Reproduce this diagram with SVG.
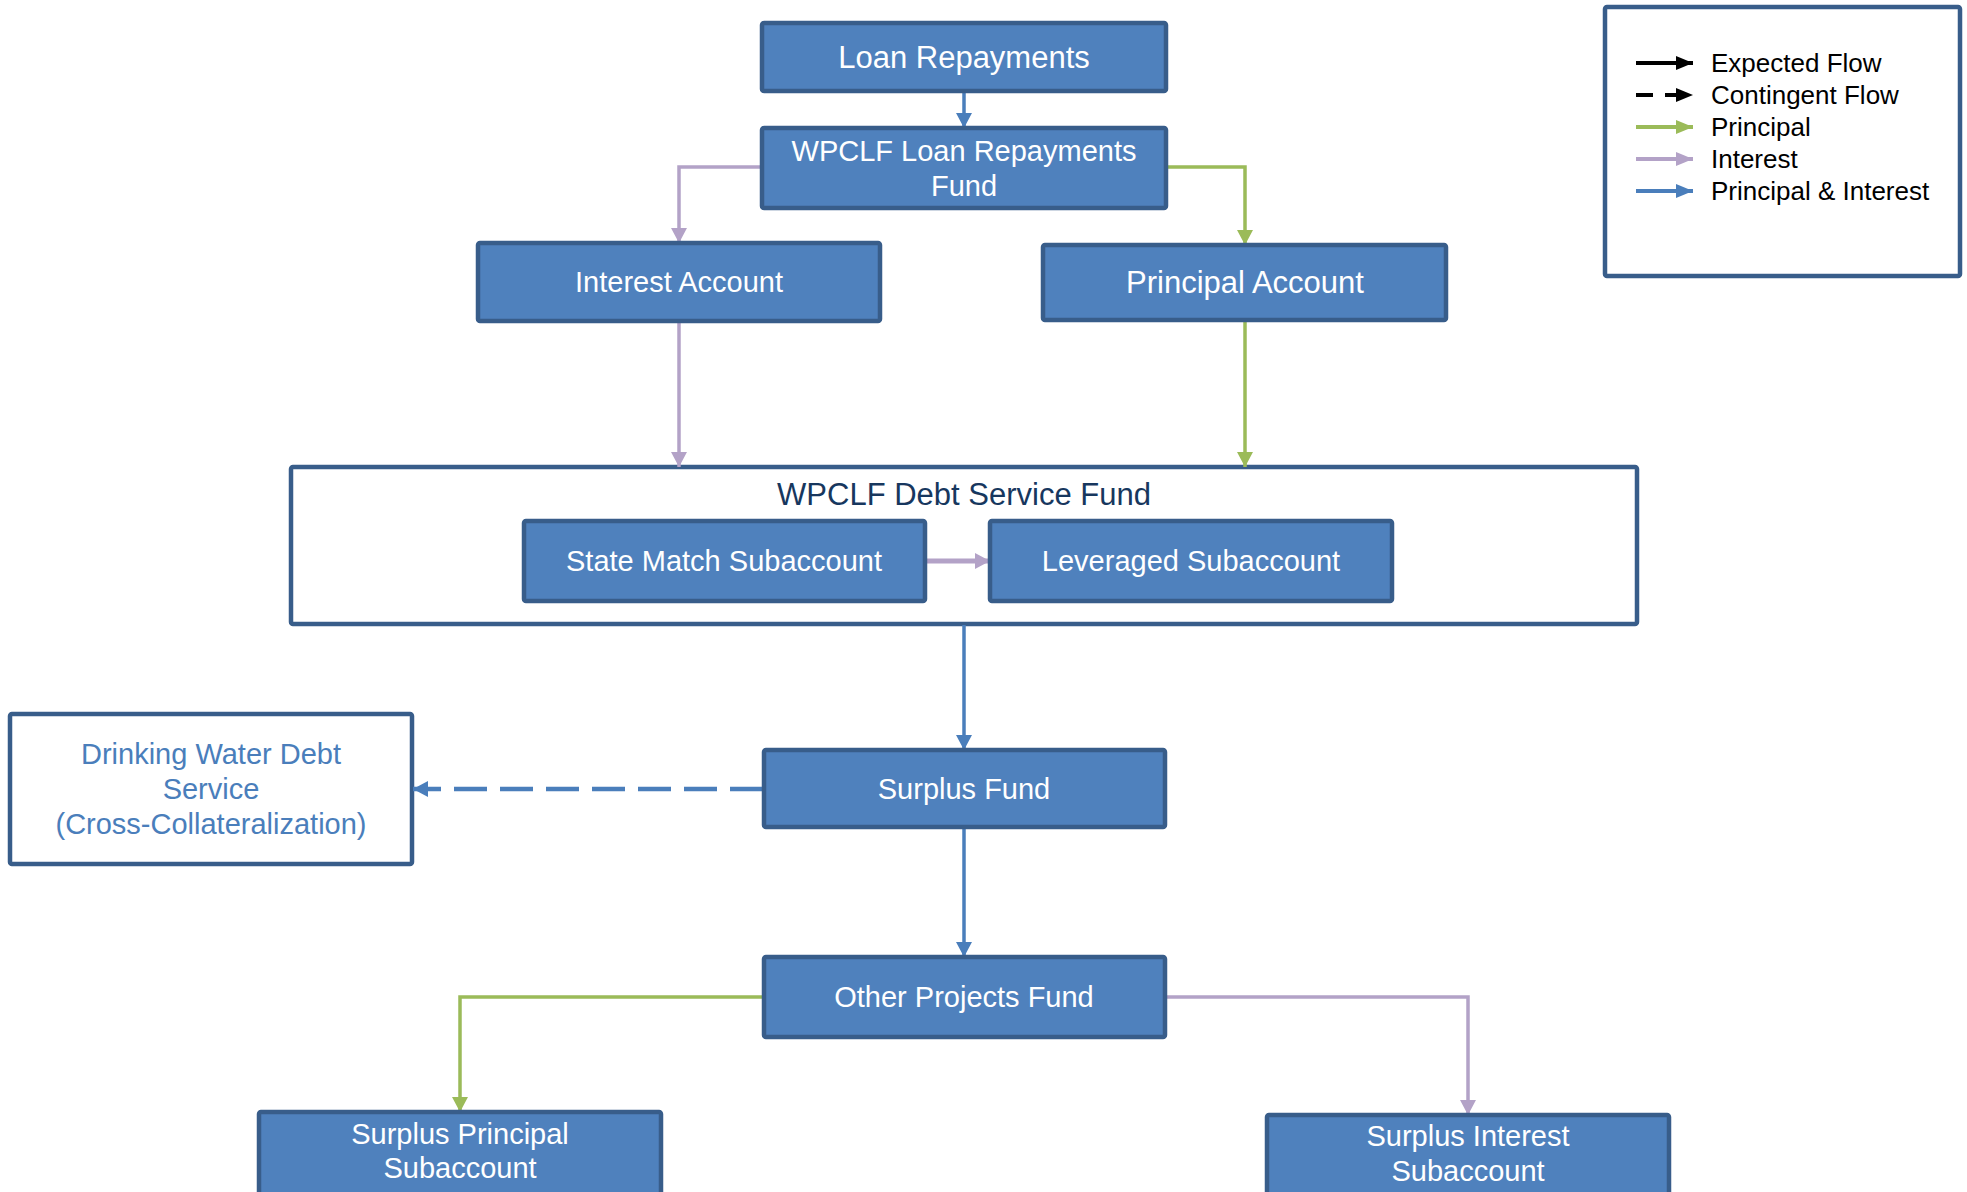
<svg xmlns="http://www.w3.org/2000/svg" width="1967" height="1192" viewBox="0 0 1967 1192">
<style>
.box{fill:#4f81bd;stroke:#385d8a;stroke-width:4.5}
.wbox{fill:#ffffff;stroke:#385d8a;stroke-width:4.5}
text{font-family:"Liberation Sans",Arial,sans-serif;text-anchor:middle}
.t{fill:#ffffff;font-size:29px}
.tb{fill:#ffffff;font-size:31px}
.lg{fill:#000000;font-size:26px;text-anchor:start}
.c{fill:none;stroke-width:3.5}
.blue{stroke:#4a7ebb}
.green{stroke:#9bbb59}
.purple{stroke:#b3a2c7}
</style>
<defs>
<marker id="aB" markerUnits="userSpaceOnUse" markerWidth="16" markerHeight="16" viewBox="0 0 16 16" refX="15" refY="8" orient="auto"><path d="M0,0 L15,8 L0,16 Z" fill="#4a7ebb"/></marker>
<marker id="aG" markerUnits="userSpaceOnUse" markerWidth="16" markerHeight="16" viewBox="0 0 16 16" refX="15" refY="8" orient="auto"><path d="M0,0 L15,8 L0,16 Z" fill="#9bbb59"/></marker>
<marker id="aP" markerUnits="userSpaceOnUse" markerWidth="16" markerHeight="16" viewBox="0 0 16 16" refX="15" refY="8" orient="auto"><path d="M0,0 L15,8 L0,16 Z" fill="#b3a2c7"/></marker>
<marker id="aK" markerUnits="userSpaceOnUse" markerWidth="18" markerHeight="16" viewBox="0 0 18 16" refX="17" refY="8" orient="auto"><path d="M0,1 L17,8 L0,15 Z" fill="#000000"/></marker>
<marker id="aG2" markerUnits="userSpaceOnUse" markerWidth="18" markerHeight="16" viewBox="0 0 18 16" refX="17" refY="8" orient="auto"><path d="M0,1 L17,8 L0,15 Z" fill="#9bbb59"/></marker>
<marker id="aP2" markerUnits="userSpaceOnUse" markerWidth="18" markerHeight="16" viewBox="0 0 18 16" refX="17" refY="8" orient="auto"><path d="M0,1 L17,8 L0,15 Z" fill="#b3a2c7"/></marker>
<marker id="aB2" markerUnits="userSpaceOnUse" markerWidth="18" markerHeight="16" viewBox="0 0 18 16" refX="17" refY="8" orient="auto"><path d="M0,1 L17,8 L0,15 Z" fill="#4a7ebb"/></marker>
</defs>
<rect width="1967" height="1192" fill="#ffffff"/>

<g id="debt-service-fund">
<rect class="wbox" x="291" y="467" width="1346" height="157" rx="2"/>
<text x="964" y="505" style="fill:#17375e;font-size:31px">WPCLF Debt Service Fund</text>
</g>
<g id="drinking-water-debt-service">
<rect class="wbox" x="10" y="714" width="402" height="150" rx="2"/>
<text x="211" y="764" style="fill:#4a7ebb;font-size:29px">Drinking Water Debt</text>
<text x="211" y="799" style="fill:#4a7ebb;font-size:29px">Service</text>
<text x="211" y="834" style="fill:#4a7ebb;font-size:29px">(Cross-Collateralization)</text>
</g>

<g id="connectors">
<path class="c blue" d="M964,91 V128" marker-end="url(#aB)"/>
<path class="c purple" d="M762,167 H679 V243" marker-end="url(#aP)"/>
<path class="c green" d="M1166,167 H1245 V245" marker-end="url(#aG)"/>
<path class="c purple" d="M679,321 V467" marker-end="url(#aP)"/>
<path class="c green" d="M1245,320 V467" marker-end="url(#aG)"/>
<path class="c purple" style="stroke-width:5" d="M925,561 H990" marker-end="url(#aP)"/>
<path class="c blue" d="M964,625 V750" marker-end="url(#aB)"/>
<path class="c blue" style="stroke-width:4.5" stroke-dasharray="33 13" d="M763,789 H413" marker-end="url(#aB)"/>
<path class="c blue" d="M964,827 V957" marker-end="url(#aB)"/>
<path class="c green" d="M764,997 H460 V1112" marker-end="url(#aG)"/>
<path class="c purple" d="M1165,997 H1468 V1115" marker-end="url(#aP)"/>
</g>

<g id="loan-repayments">
<rect class="box" x="762" y="23" width="404" height="68" rx="2"/>
<text class="tb" x="964" y="68">Loan Repayments</text>
</g>
<g id="wpclf-loan-repayments-fund">
<rect class="box" x="762" y="128" width="404" height="80" rx="2"/>
<text class="t" x="964" y="161">WPCLF Loan Repayments</text>
<text class="t" x="964" y="196">Fund</text>
</g>
<g id="interest-account">
<rect class="box" x="478" y="243" width="402" height="78" rx="2"/>
<text class="t" x="679" y="292">Interest Account</text>
</g>
<g id="principal-account">
<rect class="box" x="1043" y="245" width="403" height="75" rx="2"/>
<text class="tb" x="1245" y="293">Principal Account</text>
</g>
<g id="state-match-subaccount">
<rect class="box" x="524" y="521" width="401" height="80" rx="2"/>
<text class="t" x="724" y="571">State Match Subaccount</text>
</g>
<g id="leveraged-subaccount">
<rect class="box" x="990" y="521" width="402" height="80" rx="2"/>
<text class="t" x="1191" y="571">Leveraged Subaccount</text>
</g>
<g id="surplus-fund">
<rect class="box" x="764" y="750" width="401" height="77" rx="2"/>
<text class="t" x="964" y="799">Surplus Fund</text>
</g>
<g id="other-projects-fund">
<rect class="box" x="764" y="957" width="401" height="80" rx="2"/>
<text class="t" x="964" y="1007">Other Projects Fund</text>
</g>
<g id="surplus-principal-subaccount">
<rect class="box" x="259" y="1112" width="402" height="90" rx="2"/>
<text class="t" x="460" y="1144">Surplus Principal</text>
<text class="t" x="460" y="1178">Subaccount</text>
</g>
<g id="surplus-interest-subaccount">
<rect class="box" x="1267" y="1115" width="402" height="90" rx="2"/>
<text class="t" x="1468" y="1146">Surplus Interest</text>
<text class="t" x="1468" y="1181">Subaccount</text>
</g>

<g id="legend">
<rect class="wbox" x="1605" y="7" width="355" height="269" rx="2"/>
<path d="M1636,63 H1693" stroke="#000000" stroke-width="4" marker-end="url(#aK)"/>
<path d="M1636,95 H1693" stroke="#000000" stroke-width="4" stroke-dasharray="17 12" marker-end="url(#aK)"/>
<path d="M1636,127 H1693" stroke="#9bbb59" stroke-width="4" marker-end="url(#aG2)"/>
<path d="M1636,159 H1693" stroke="#b3a2c7" stroke-width="4" marker-end="url(#aP2)"/>
<path d="M1636,191 H1693" stroke="#4a7ebb" stroke-width="4" marker-end="url(#aB2)"/>
<text class="lg" x="1711" y="72">Expected Flow</text>
<text class="lg" x="1711" y="104">Contingent Flow</text>
<text class="lg" x="1711" y="136">Principal</text>
<text class="lg" x="1711" y="168">Interest</text>
<text class="lg" x="1711" y="200">Principal &amp; Interest</text>
</g>
</svg>
